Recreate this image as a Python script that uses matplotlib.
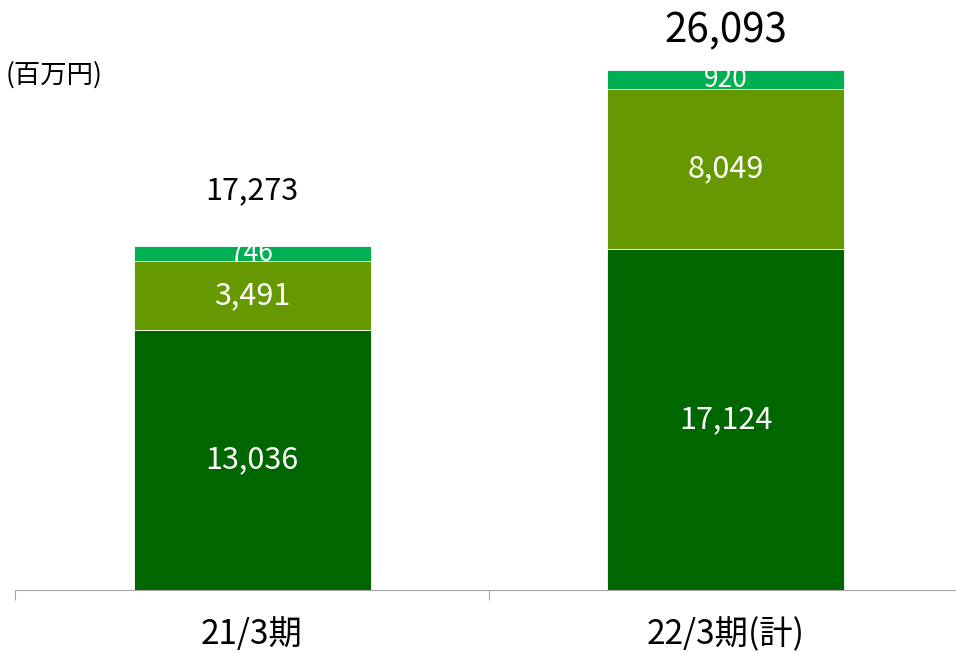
import matplotlib
matplotlib.use("Agg")
import matplotlib.pyplot as plt
import numpy as np

plt.rcParams['font.family'] = ['Noto Sans CJK JP', 'DejaVu Sans']

categories = ["21/3期", "22/3期(計)"]
seg_bottom = [13036, 17124]
seg_mid = [3491, 8049]
seg_top = [746, 920]
totals = [17273, 26093]
unit_label = "(百万円)"

c_bottom = "#006600"
c_mid = "#669900"
c_top = "#00B050"

fig = plt.figure(figsize=(9.56, 6.53), dpi=100)
ax = fig.add_axes([15/956, 63/653, 948/956, 557.8/653])

x = np.arange(len(categories))
w = 0.5
b1 = np.array(seg_bottom)
b2 = b1 + np.array(seg_mid)
ax.bar(x, seg_bottom, width=w, color=c_bottom, edgecolor="white", linewidth=0.6)
ax.bar(x, seg_mid, width=w, bottom=b1, color=c_mid, edgecolor="white", linewidth=0.6)
ax.bar(x, seg_top, width=w, bottom=b2, color=c_top, edgecolor="white", linewidth=0.6)

for i in range(len(categories)):
    ax.text(x[i], seg_bottom[i] / 2, f"{seg_bottom[i]:,}", ha="center", va="center",
            color="white", fontsize=22)
    ax.text(x[i], b1[i] + seg_mid[i] / 2, f"{seg_mid[i]:,}", ha="center", va="center",
            color="white", fontsize=22)
    ax.text(x[i], b2[i] + seg_top[i] / 2, f"{seg_top[i]:,}", ha="center", va="center",
            color="white", fontsize=19)

# totals
ax.annotate(f"{totals[0]:,}", xy=(x[0], totals[0]), xytext=(0, 55 * 0.72),
            textcoords="offset points", ha="center", va="center", fontsize=22, color="black")
ax.annotate(f"{totals[1]:,}", xy=(x[1], totals[1]), xytext=(0, 39 * 0.72),
            textcoords="offset points", ha="center", va="center", fontsize=29, color="black")

# category labels
for i, lab in enumerate(categories):
    ax.annotate(lab, xy=(x[i], 0), xycoords=("data", "axes fraction"),
                xytext=(0, -45 * 0.72), textcoords="offset points",
                ha="center", va="center", fontsize=24, color="black")

ax.set_xlim(-0.5, 1.5)
ax.set_ylim(0, 28000)
ax.set_xticks([-0.5, 0.5, 1.5])
ax.set_xticklabels([])
ax.set_yticks([])
ax.tick_params(axis="x", direction="out", length=7.2, width=0.8, color="#A6A6A6")
for s in ["top", "right", "left"]:
    ax.spines[s].set_visible(False)
ax.spines["bottom"].set_color("#A6A6A6")
ax.spines["bottom"].set_linewidth(0.8)
ax.patch.set_alpha(0)

fig.text(6/956, 1 - 75/653, unit_label, ha="left", va="center", fontsize=19, color="black")

fig.savefig("out.png", dpi=100)
